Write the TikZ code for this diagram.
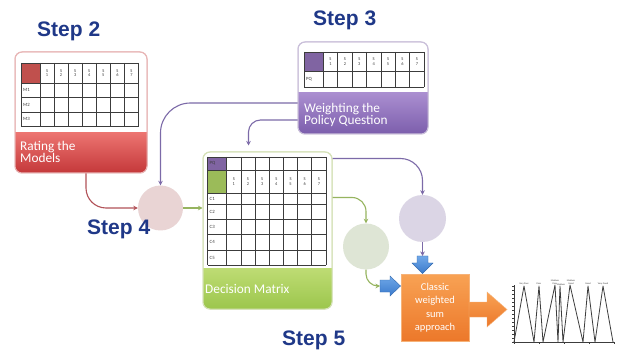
\documentclass[tikz,border=0pt]{standalone}
\usepackage{fontspec}
\setmainfont{Carlito}
\newfontfamily\stepfont{Liberation Sans}
\usetikzlibrary{arrows.meta}
\definecolor{stepblue}{RGB}{31,56,136}
\definecolor{redfill}{RGB}{192,80,77}
\definecolor{redtop}{RGB}{236,116,112}
\definecolor{redbot}{RGB}{196,56,58}
\definecolor{redborder}{RGB}{232,182,182}
\definecolor{redline}{RGB}{178,82,88}
\definecolor{purfill}{RGB}{128,100,162}
\definecolor{purtop}{RGB}{170,142,208}
\definecolor{purbot}{RGB}{124,94,172}
\definecolor{purborder}{RGB}{202,192,218}
\definecolor{purline}{RGB}{124,106,168}
\definecolor{grnfill}{RGB}{155,187,89}
\definecolor{grntop}{RGB}{190,220,116}
\definecolor{grnbot}{RGB}{156,198,76}
\definecolor{grnborder}{RGB}{214,226,184}
\definecolor{grnline}{RGB}{150,180,95}
\definecolor{pinkc}{RGB}{233,212,212}
\definecolor{grnc}{RGB}{222,229,213}
\definecolor{lavc}{RGB}{219,213,229}
\definecolor{orgtop}{RGB}{248,162,84}
\definecolor{orgbot}{RGB}{236,120,42}
\definecolor{orgborder}{RGB}{246,178,120}
\definecolor{bluetop}{RGB}{112,168,232}
\definecolor{bluebot}{RGB}{58,122,204}
\definecolor{gridc}{RGB}{60,60,60}
\begin{document}
\begin{tikzpicture}[x=1pt,y=-1pt,
  steptext/.style={font=\stepfont\bfseries\fontsize{21}{21}\selectfont, text=stepblue, inner sep=0, anchor=base west},
  panel/.style={rounded corners=7pt, line width=1pt, fill=white, inner sep=0},
  bandtxt/.style={font=\fontsize{13.3}{12.5}\selectfont, text=white, align=left, inner sep=0, anchor=north west},
  hdr/.style={font=\fontsize{4.4}{4.6}\selectfont, align=center, inner sep=0, text=gridc},
  rowl/.style={font=\fontsize{4.8}{4.8}\selectfont, inner sep=0, text=gridc, anchor=west},
  gridl/.style={draw=gridc, line width=0.6pt},
  conn/.style={line width=1.1pt, -{Stealth[length=4.5pt,width=4.5pt]}},
  bubble/.style={circle, inner sep=0},
  chartl/.style={font=\fontsize{2.4}{2.6}\selectfont, align=center, inner sep=0, text=gridc}
]
\useasboundingbox (0,0) rectangle (620,352);
\fill[white] (0,0) rectangle (620,352);

% ---------- Step 2 panel
\node[panel, draw=redborder, minimum width=132pt, minimum height=121pt] (p2) at (81,112.5) {};
\begin{scope}
  \clip[rounded corners=7pt] (15,52) rectangle (147,173);
  \shade[top color=redtop, bottom color=redbot] (15,133) rectangle (147,173);
\end{scope}
\draw[redborder, line width=1pt, rounded corners=7pt] (15,52) rectangle (147,173);
\fill[redfill] (21,63) rectangle (40,83);
\draw[gridl] (21,63) -- (21,126);
\foreach \i in {0,...,7} \draw[gridl] ({40+\i*14.07},63) -- ({40+\i*14.07},126);
\foreach \y in {63,83,97,112,126} \draw[gridl] (21,\y) -- (138.5,\y);
\foreach \i in {1,...,7} \node[hdr] (a\i) at ({40+(\i-0.5)*14.07},73) {S\\\i};
\node[rowl] (m1) at (23,90) {M1};
\node[rowl] (m2) at (23,104.5) {M2};
\node[rowl] (m3) at (23,119) {M3};
\node[bandtxt] (t2) at (20,141) {Rating the\\Models};

% ---------- Step 3 panel
\node[panel, draw=purborder, minimum width=130pt, minimum height=92pt] (p3) at (363,88) {};
\begin{scope}
  \clip[rounded corners=7pt] (298,42) rectangle (428,134);
  \shade[top color=purtop, bottom color=purbot] (298,93) rectangle (428,134);
\end{scope}
\draw[purborder, line width=1pt, rounded corners=7pt] (298,42) rectangle (428,134);
\fill[purfill] (304,52) rectangle (323.3,71);
\draw[gridl] (304,52) -- (304,87);
\foreach \i in {0,...,7} \draw[gridl] ({323.3+\i*14.4},52) -- ({323.3+\i*14.4},87);
\foreach \y in {52,71,87} \draw[gridl] (304,\y) -- (424.1,\y);
\foreach \i in {1,...,7} \node[hdr] (b\i) at ({323.3+(\i-0.5)*14.4},61.5) {S\\\i};
\node[rowl] (pq3) at (306,79) {PQ};
\node[bandtxt] (t3) at (304,103) {Weighting the\\Policy Question};

% ---------- Decision matrix panel
\node[panel, draw=grnborder, minimum width=129pt, minimum height=157pt] (pdm) at (267.5,230.5) {};
\begin{scope}
  \clip[rounded corners=7pt] (203,152) rectangle (332,309);
  \shade[top color=grntop, bottom color=grnbot] (203,268) rectangle (332,309);
\end{scope}
\draw[grnborder, line width=1pt, rounded corners=7pt] (203,152) rectangle (332,309);
\fill[purfill] (207.5,157) rectangle (226.7,170);
\fill[grnfill] (207.5,170) rectangle (226.7,193);
\draw[gridl] (207.5,157) -- (207.5,265.5);
\foreach \i in {0,...,7} \draw[gridl] ({226.7+\i*14.18},157) -- ({226.7+\i*14.18},265.5);
\foreach \y in {157,170,193,204.5,219.5,234.5,250,265.5} \draw[gridl] (207.5,\y) -- (326,\y);
\foreach \i in {1,...,7} \node[hdr] (c\i) at ({226.7+(\i-0.5)*14.18},181.5) {S\\\i};
\node[rowl] (pqd) at (209.5,163.5) {PQ};
\node[rowl] (r1) at (209.5,198.7) {C1};
\node[rowl] (r2) at (209.5,212) {C2};
\node[rowl] (r3) at (209.5,227) {C3};
\node[rowl] (r4) at (209.5,242.2) {C4};
\node[rowl] (r5) at (209.5,257.7) {C5};
\node[bandtxt] (tdm) at (205,284) {Decision Matrix};

% ---------- bubbles
\node[bubble, fill=pinkc, minimum size=45pt] (pink) at (160.5,208) {};
\node[bubble, fill=lavc, minimum size=47pt] (lav) at (422.5,218.5) {};
\node[bubble, fill=grnc, minimum size=46pt] (gc) at (366,246.5) {};

% ---------- result box and block arrows
\node[draw=orgborder, line width=0.6pt, top color=orgtop, bottom color=orgbot,
      minimum width=68pt, minimum height=67pt, inner sep=0, text=white, align=center,
      font=\fontsize{10.5}{13.5}\selectfont] (cws) at (435,307.5) {Classic\\weighted\\sum\\approach};
\shade[top color=bluetop, bottom color=bluebot, draw=bluebot!85!black, line width=0.4pt]
  (417,256) -- (428,256) -- (428,263) -- (433,263) -- (422.5,273.5) -- (412,263) -- (417,263) -- cycle;
\coordinate (ba1n) at (422.5,256);
\shade[top color=bluetop, bottom color=bluebot, draw=bluebot!85!black, line width=0.4pt]
  (380,280) -- (390,280) -- (390,276) -- (400.5,286) -- (390,296) -- (390,292) -- (380,292) -- cycle;
\coordinate (ba2w) at (380,286);
\shade[top color=orgtop, bottom color=orgbot, draw=orgborder, line width=0.4pt]
  (469,302) -- (487,302) -- (487,292) -- (507,309.5) -- (487,327) -- (487,317) -- (469,317) -- cycle;

% ---------- connectors
\draw[conn, redline, rounded corners=20pt] ([xshift=5pt]p2.south) |- (pink.west);
\draw[conn, purline, rounded corners=30pt] ([yshift=-15pt]p3.west) -| (pink.north);
\draw[conn, purline, rounded corners=12pt, shorten >=6pt] ([yshift=-32pt]p3.west) -| ([xshift=-19pt]pdm.north);
\draw[conn, grnline] (pink.east) -- (pink.east -| pdm.west);
\draw[conn, purline, rounded corners=22pt] ([yshift=72pt]pdm.east) -| (lav.north);
\draw[conn, grnline, rounded corners=14pt] ([yshift=33pt]pdm.east) -| (gc.north);
\draw[conn, purline] (lav.south) -- (ba1n);
\draw[conn, grnline, rounded corners=12pt] (gc.south) |- (ba2w);

% ---------- result chart
\draw[gridc, line width=0.5pt] (514,285) -- (514,342) -- (615,342);
\foreach \k in {0,...,14} \draw[gridc, line width=0.3pt] (512,{342-\k*4}) -- (514,{342-\k*4});
\foreach \k in {0,...,4} \draw[gridc, line width=0.3pt] ({514+\k*25},342) -- ({514+\k*25},344);
\draw[gridc, line width=0.8pt, line join=round] (514,342) -- (524,286) -- (534,342) -- (539,286) -- (543,342)
  -- (555,285) -- (558,342) -- (560,286) -- (563,342) -- (570,285) -- (583,342) -- (588,286)
  -- (595,342) -- (603,286) -- (613,342);
\node[chartl] (l1) at (524,284) {Very Poor};
\node[chartl] (l2) at (539,284) {Poor};
\node[chartl] (l3) at (555,282) {Medium\\Poor};
\node[chartl] (l4) at (561,284.5) {Medium};
\node[chartl] (l5) at (571,282) {Medium\\Good};
\node[chartl] (l6) at (588,284) {Good};
\node[chartl] (l7) at (603,284) {Very Good};

% ---------- Step labels (on top)
\node[steptext] (s2) at (37,37) {Step 2};
\node[steptext] (s3) at (313,26) {Step 3};
\node[steptext] (s4) at (87,235) {Step 4};
\node[steptext] (s5) at (282,345) {Step 5};
\end{tikzpicture}
\end{document}
